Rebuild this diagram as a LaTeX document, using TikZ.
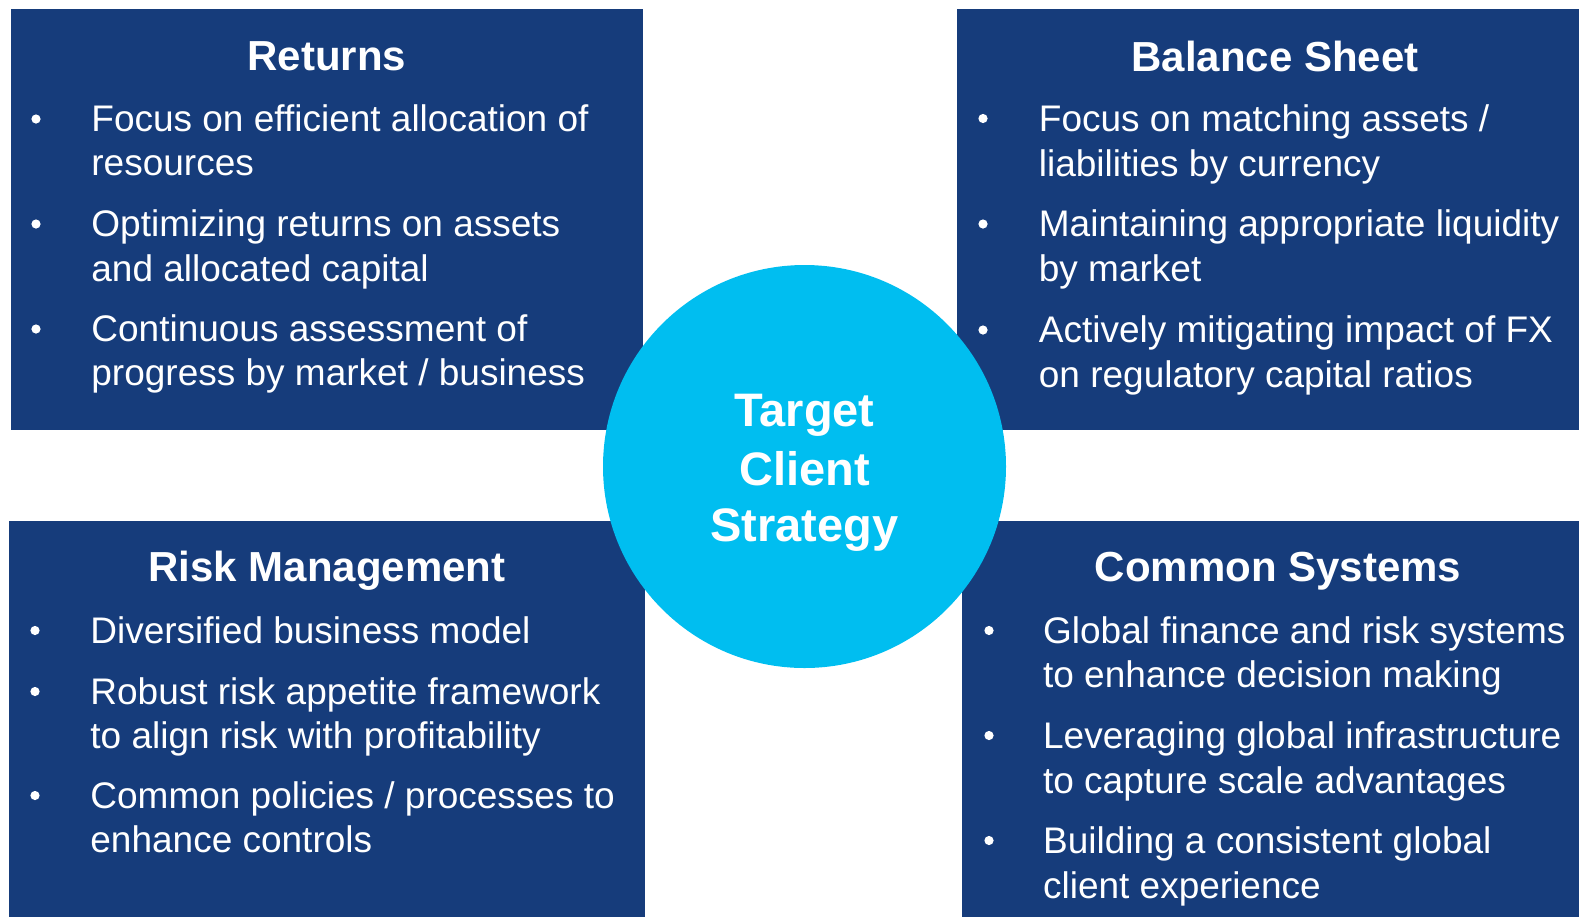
\documentclass[tikz,border=0pt]{standalone}
\usepackage{fontspec}
\setmainfont{Liberation Sans}
\definecolor{panelblue}{HTML}{163C7B}
\definecolor{hubcyan}{HTML}{00BEF0}
\begin{document}
\begin{tikzpicture}[x=0.5pt,y=-0.5pt,
  panel/.style={fill=panelblue,draw=none},
  heading/.style={anchor=base,text=white,inner sep=0pt,
    font=\fontsize{21}{25}\selectfont\bfseries},
  body/.style={anchor=base west,text=white,inner sep=0pt,
    font=\fontsize{18.5}{22}\selectfont},
  dot/.style={circle,fill=white,draw=none,inner sep=0pt,minimum size=4.6pt},
  hub/.style={circle,fill=hubcyan,draw=none,inner sep=0pt,minimum size=201.5pt},
  hubtext/.style={anchor=base,text=white,inner sep=0pt,
    font=\fontsize{23.5}{28}\selectfont\bfseries}]
\useasboundingbox (0,0) rectangle (1579,917);

% four quadrant panels
\fill[panel] (11,9) rectangle (643,430);
\fill[panel] (957,9) rectangle (1579,430);
\fill[panel] (9,521) rectangle (645,917);
\fill[panel] (962,521) rectangle (1579,917);

% Returns
\node[heading] (rt) at (327,70.7) {Returns};
\node[dot] (rd1) at (36,119) {};
\node[body] (r1a) at (91,131.7) {Focus on efficient allocation of};
\node[body] (r1b) at (91,175.5) {resources};
\node[dot] (rd2) at (36,224) {};
\node[body] (r2a) at (91,236.7) {Optimizing returns on assets};
\node[body] (r2b) at (91,281) {and allocated capital};
\node[dot] (rd3) at (36,329) {};
\node[body] (r3a) at (91,341.7) {Continuous assessment of};
\node[body] (r3b) at (91,385.5) {progress by market / business};

% Balance Sheet
\node[heading] (bt) at (1275,71.2) {Balance Sheet};
\node[dot] (bd1) at (983,118.5) {};
\node[body] (b1a) at (1038.5,131.5) {Focus on matching assets /};
\node[body] (b1b) at (1038.5,176) {liabilities by currency};
\node[dot] (bd2) at (983,224) {};
\node[body] (b2a) at (1038.5,236.8) {Maintaining appropriate liquidity};
\node[body] (b2b) at (1038.5,281.5) {by market};
\node[dot] (bd3) at (983,330) {};
\node[body] (b3a) at (1038.5,342.7) {Actively mitigating impact of FX};
\node[body] (b3b) at (1038.5,387.5) {on regulatory capital ratios};

% Risk Management
\node[heading] (mt) at (327,581.7) {Risk Management};
\node[dot] (md1) at (35,630.5) {};
\node[body] (m1a) at (90,643.3) {Diversified business model};
\node[dot] (md2) at (35,691.5) {};
\node[body] (m2a) at (90,704) {Robust risk appetite framework};
\node[body] (m2b) at (90,748.3) {to align risk with profitability};
\node[dot] (md3) at (35,795.5) {};
\node[body] (m3a) at (90,808.3) {Common policies / processes to};
\node[body] (m3b) at (90,852.7) {enhance controls};

% Common Systems
\node[heading] (ct) at (1278,581.7) {Common Systems};
\node[dot] (cd1) at (989,630.5) {};
\node[body] (c1a) at (1042.7,643.3) {Global finance and risk systems};
\node[body] (c1b) at (1042.7,687) {to enhance decision making};
\node[dot] (cd2) at (989,735.5) {};
\node[body] (c2a) at (1042.7,748.3) {Leveraging global infrastructure};
\node[body] (c2b) at (1042.7,793.3) {to capture scale advantages};
\node[dot] (cd3) at (989,840.5) {};
\node[body] (c3a) at (1042.7,853.3) {Building a consistent global};
\node[body] (c3b) at (1042.7,898.3) {client experience};

% central hub
\node[hub] (center) at (804.5,466.5) {};
\node[hubtext] (h1) at (804.5,426.7) {Target};
\node[hubtext] (h2) at (804.5,485) {Client};
\node[hubtext] (h3) at (804.5,541.7) {Strategy};
\end{tikzpicture}
\end{document}
